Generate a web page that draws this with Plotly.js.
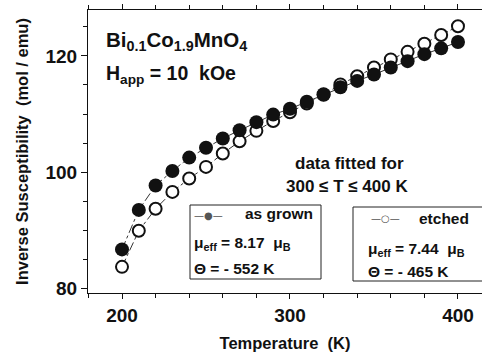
<!DOCTYPE html>
<html>
<head>
<meta charset="utf-8">
<script src="https://cdn.plot.ly/plotly-3.0.1.min.js"></script>
<style>html,body{margin:0;padding:0;background:#fff;}#chart{width:482px;height:355px;}</style>
</head>
<body>
<div id="chart"></div>
<script>
const temperature = [200,210,220,230,240,250,260,270,280,290,300,310,320,330,340,350,360,370,380,390,400];
const asGrown = [86.7,93.5,97.7,100.2,102.5,104.2,105.8,107.2,108.6,109.9,110.9,112.1,113.4,114.6,115.7,116.8,118.0,119.1,120.3,121.3,122.4];
const etched  = [83.7,89.9,93.7,96.6,98.9,100.9,103.2,105.3,107.1,108.8,110.3,111.8,113.3,115.1,116.5,118.0,119.4,120.7,122.1,123.6,125.1];
const xTickVals = [200,300,400];
const yTickVals = [80,100,120];

const FONT = 'Liberation Sans, Arial, Helvetica, sans-serif';
const L = 88, R = 0, T = 10, B = 62, W = 482, H = 355;
const pw = W - L - R, ph = H - T - B;
const px = x => (x - L) / pw;
const py = y => (T + ph - y) / ph;

const traces = [
  {x: temperature, y: etched, mode: 'lines+markers', name: 'etched',
   line: {color: '#333', width: 1, dash: 'dashdot'},
   marker: {symbol: 'circle', size: 12, color: '#fff', line: {color: '#111', width: 2}}},
  {x: temperature, y: asGrown, mode: 'lines+markers', name: 'as grown',
   line: {color: '#333', width: 1, dash: 'dashdot'},
   marker: {symbol: 'circle', size: 14, color: '#111', line: {color: '#111', width: 0}}}
];

function ann(text, x, y, size, xanchor) {
  return {text: text, xref: 'paper', yref: 'paper', x: px(x), y: py(y), showarrow: false,
    xanchor: xanchor || 'left', yanchor: 'middle',
    font: {family: FONT, size: size, color: '#111', weight: 'bold'}};
}

const layout = {
  width: W, height: H,
  margin: {l: L, r: R, t: T, b: B},
  paper_bgcolor: '#fff', plot_bgcolor: '#fff',
  showlegend: false,
  font: {family: FONT, color: '#111'},
  xaxis: {
    range: [179.76, 414.3], tickvals: xTickVals, ticktext: xTickVals.map(String),
    ticks: 'outside', ticklen: 5, tickwidth: 1, tickcolor: '#111',
    minor: {dtick: 20, tick0: 200, ticks: 'outside', ticklen: 4, tickwidth: 1, tickcolor: '#111'},
    showline: true, linecolor: '#111', linewidth: 1, mirror: 'ticks',
    showgrid: false, zeroline: false,
    tickfont: {family: FONT, size: 19, color: '#111', weight: 'bold'},
    title: {text: 'Temperature  (K)', standoff: 12, font: {family: FONT, size: 16.5, color: '#111', weight: 'bold'}}
  },
  yaxis: {
    range: [79.2, 127.9], tickvals: yTickVals, ticktext: yTickVals.map(String),
    ticks: 'outside', ticklen: 6, tickwidth: 1, tickcolor: '#111',
    minor: {dtick: 5, tick0: 80, ticks: 'outside', ticklen: 4, tickwidth: 1, tickcolor: '#111'},
    showline: true, linecolor: '#111', linewidth: 1, mirror: false,
    showgrid: false, zeroline: false,
    tickfont: {family: FONT, size: 19, color: '#111', weight: 'bold'},
    title: {text: 'Inverse Susceptibility  (mol / emu)', standoff: 12, font: {family: FONT, size: 16.5, color: '#111', weight: 'bold'}}
  },
  shapes: [
    {type: 'rect', xref: 'paper', yref: 'paper', x0: px(190), x1: px(321), y0: py(279), y1: py(205),
     line: {color: '#222', width: 1}, fillcolor: '#fff'},
    {type: 'rect', xref: 'paper', yref: 'paper', x0: px(353), x1: px(492), y0: py(281), y1: py(207),
     line: {color: '#222', width: 1}, fillcolor: '#fff'}
  ],
  annotations: [
    ann('Bi<sub>0.1</sub>Co<sub>1.9</sub>MnO<sub>4</sub>', 104, 41, 20.5),
    ann('H<sub>app</sub> = 10  kOe', 104, 74, 19.5),
    ann('data fitted for', 349, 163, 17, 'center'),
    ann('300 \u2264 T \u2264 400 K', 347, 186, 17, 'center'),
    {text: '\u2014\u25CF\u2014', xref: 'paper', yref: 'paper', x: px(208), y: py(215), showarrow: false, xanchor: 'center', yanchor: 'middle',
     font: {family: 'DejaVu Sans', size: 10, color: '#555'}},
    ann('as grown', 243, 213, 15.5),
    ann('\u03BC<sub>eff</sub> = 8.17  \u03BC<sub>B</sub>', 192, 243, 15.5),
    ann('\u0398 = - 552 K', 192, 268, 15.5),
    {text: '\u2014\u25CB\u2014', xref: 'paper', yref: 'paper', x: px(385), y: py(218), showarrow: false, xanchor: 'center', yanchor: 'middle',
     font: {family: 'DejaVu Sans', size: 10, color: '#555'}},
    ann('etched', 417, 218, 15.5),
    ann('\u03BC<sub>eff</sub> = 7.44  \u03BC<sub>B</sub>', 366, 249, 15.5),
    ann('\u0398 = - 465 K', 366, 271, 15.5)
  ]
};

Plotly.newPlot('chart', traces, layout, {staticPlot: true, displayModeBar: false});
</script>
</body>
</html>
